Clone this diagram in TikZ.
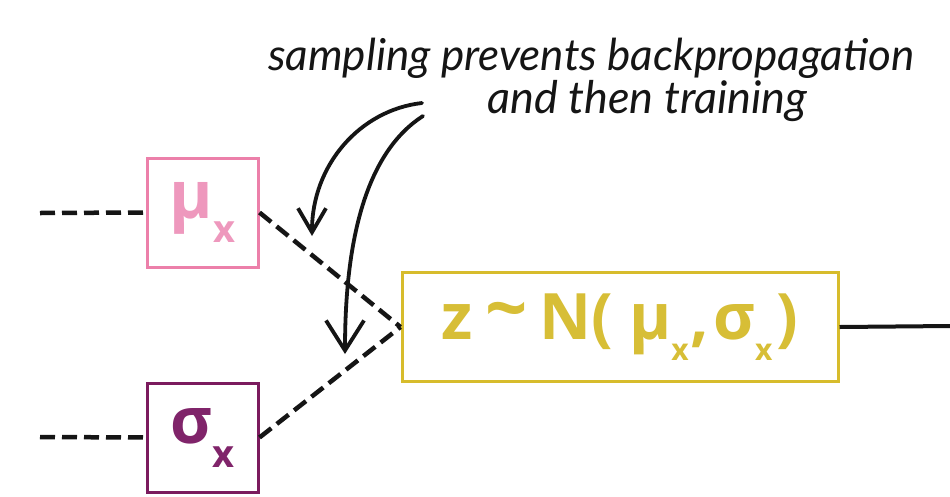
\documentclass[tikz,border=0pt]{standalone}
\usepackage{fontspec}
\newfontfamily\boxfont{Open Sans}
\newfontfamily\handfont{Lato}
\usetikzlibrary{arrows.meta}
\definecolor{mupink}{HTML}{EC80AA}
\definecolor{mutext}{HTML}{EE98BD}
\definecolor{sigpurp}{HTML}{7B1B5E}
\definecolor{sigtext}{HTML}{80246A}
\definecolor{zyel}{HTML}{D7BC2C}
\definecolor{ztext}{HTML}{D7BE36}
\definecolor{ink}{HTML}{151515}
\newcommand{\subx}[2]{\raisebox{-#1pt}{\fontsize{#2}{#2}\selectfont x}}
\tikzset{
  varbox/.style={draw, line width=3pt, inner sep=0pt, minimum width=#1, minimum height=109pt},
  dotline/.style={line width=4.5pt, ink, dash pattern=on 15pt off 7pt},
  curvearrow/.style={line width=3.8pt, ink, line cap=round},
  handtext/.style={font=\handfont\itshape\fontsize{44}{48}\selectfont, text=ink, inner sep=0pt, anchor=base west},
}
\begin{document}
\begin{tikzpicture}[x=1pt,y=-1pt]
\useasboundingbox (0,0) rectangle (950,496);
\fill[white] (0,0) rectangle (950,496);
% boxes
\node[varbox=111pt, draw=mupink, text=mutext] (mu) at (202.5,212.5)
  {\boxfont\bfseries\fontsize{66}{70}\selectfont μ\subx{24}{38}};
\node[varbox=111pt, draw=sigpurp, text=sigtext] (sig) at (202.5,437.5)
  {\boxfont\bfseries\fontsize{64}{70}\selectfont σ\subx{24}{38}};
\node[varbox=436pt, draw=zyel, text=ztext] (z) at (620,327)
  {\boxfont\bfseries\fontsize{64}{70}\selectfont z\hspace{12pt}\raisebox{5pt}{\fontsize{74}{76}\selectfont\textasciitilde}\hspace{12pt}N(\hspace{16pt}μ\subx{21}{30}\hspace{2pt},\hspace{4pt}σ\subx{21}{30}\hspace{4pt})};
% coordinates
\coordinate (muin) at (40,213);
\coordinate (sigin) at (40,437);
\coordinate (zout) at (950,326);
% dotted inputs
\draw[dotline] (muin) -- (mu.west);
\draw[dotline] (sigin) -- (sig.west);
\draw[dotline] (mu.east) -- (z.west);
\draw[dotline] (sig.east) -- (z.west);
\draw[line width=4pt, ink] (z.east) -- (zout);
% annotation
\node[handtext] (t1) at (268,70) {sampling prevents backpropagation};
\node[handtext, font=\handfont\itshape\fontsize{45}{50}\selectfont] (t2) at (487,113) {and then training};
\coordinate (a1s) at (422,103);
\coordinate (a1e) at (312,236);
\coordinate (a2s) at (423,116);
\coordinate (a2e) at (345,354);
\draw[curvearrow, -{Straight Barb[length=24pt,width=28pt,line width=3.8pt]}] (a1s) .. controls (360,110) and (312,165) .. (a1e);
\draw[curvearrow, -{Straight Barb[length=30pt,width=38pt,line width=3.8pt]}] (a2s) .. controls (370,150) and (345,230) .. (a2e);
\end{tikzpicture}
\end{document}
